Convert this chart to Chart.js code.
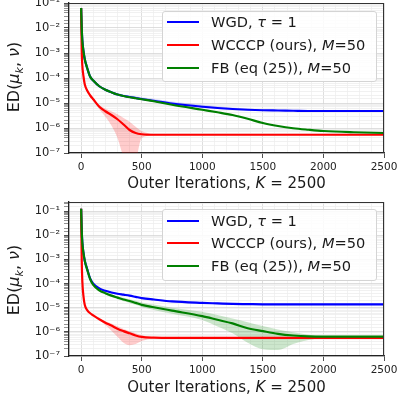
<!DOCTYPE html>
<html>
<head>
<meta charset="utf-8">
<script src="https://cdn.jsdelivr.net/npm/chart.js@4.4.1/dist/chart.umd.min.js"></script>
<style>
    body { margin: 0; background: #fff; }
    #wrap { position: relative; width: 397px; height: 402px; font-family: "DejaVu Sans", sans-serif; color: #1a1a1a; }
    .panel { position: absolute; left: 0; }
    .legend { position: absolute; left: 162px; width: 215px; box-sizing: border-box; border: 1px solid #d4d4d4; border-radius: 3px; background: rgba(255,255,255,0.85); font-size: 14.6px; }
    .row { position: absolute; left: 0; height: 20px; line-height: 20px; white-space: nowrap; }
    .ln { position: absolute; left: 4px; top: 9px; width: 32px; height: 2px; }
    .tx { position: absolute; left: 48px; top: 0; }
    .xtitle { position: absolute; left: 69px; width: 315px; text-align: center; font-size: 15px; line-height: 20px; white-space: nowrap; }
    .ytitle { position: absolute; width: 160px; height: 20px; line-height: 20px; text-align: center; font-size: 16px; transform: rotate(-90deg); white-space: nowrap; }
</style>
</head>
<body>
<div id="wrap">
    <div class="panel" style="top:0"><canvas id="topChart" width="397" height="200"></canvas></div>
    <div class="panel" style="top:200px"><canvas id="botChart" width="397" height="202"></canvas></div>

    <div class="ytitle" style="left:-66px; top:67px">ED(<i>μ<sub style="font-size:11px">k</sub></i>, <i>ν</i>)</div>
    <div class="ytitle" style="left:-66px; top:270px">ED(<i>μ<sub style="font-size:11px">k</sub></i>, <i>ν</i>)</div>
    <div class="xtitle" style="top:173px">Outer Iterations, <i>K</i> = 2500</div>
    <div class="xtitle" style="top:377px">Outer Iterations, <i>K</i> = 2500</div>

    <div class="legend" style="top:11px; height:71px">
        <div class="row" style="top:0px"><span class="ln" style="background:#0000ff"></span><span class="tx">WGD, <i>τ</i> = 1</span></div>
        <div class="row" style="top:23px"><span class="ln" style="background:#ff0000"></span><span class="tx">WCCCP (ours), <i>M</i>=50</span></div>
        <div class="row" style="top:46px"><span class="ln" style="background:#008000"></span><span class="tx">FB (eq (25)), <i>M</i>=50</span></div>
    </div>
    <div class="legend" style="top:209px; height:72px">
        <div class="row" style="top:1px"><span class="ln" style="background:#0000ff"></span><span class="tx">WGD, <i>τ</i> = 1</span></div>
        <div class="row" style="top:23px"><span class="ln" style="background:#ff0000"></span><span class="tx">WCCCP (ours), <i>M</i>=50</span></div>
        <div class="row" style="top:46px"><span class="ln" style="background:#008000"></span><span class="tx">FB (eq (25)), <i>M</i>=50</span></div>
    </div>
</div>

<script>
const iters = [0, 5, 10, 20, 30, 50, 75, 100, 150, 200, 250, 300, 350, 400, 450, 500, 600, 750, 1000, 1125, 1250, 1375, 1500, 1625, 1750, 1875, 2000, 2250, 2500];

// --- top panel, log10 of ED ---
const wgdTop   = [-1.2, -2.0, -2.5, -2.95, -3.25, -3.6, -3.95, -4.1, -4.33, -4.47, -4.57, -4.66, -4.72, -4.76, -4.8, -4.84, -4.91, -5.02, -5.15, -5.2, -5.24, -5.27, -5.29, -5.3, -5.31, -5.32, -5.32, -5.32, -5.32];
const wgdTopHi = [-1.2, -2.0, -2.5, -2.93, -3.22, -3.57, -3.92, -4.07, -4.29, -4.43, -4.52, -4.6, -4.66, -4.7, -4.73, -4.77, -4.83, -4.94, -5.07, -5.13, -5.18, -5.22, -5.25, -5.27, -5.29, -5.3, -5.31, -5.31, -5.31];
const wgdTopLo = [-1.2, -2.0, -2.5, -2.97, -3.28, -3.63, -3.98, -4.13, -4.36, -4.5, -4.6, -4.69, -4.75, -4.8, -4.84, -4.88, -4.95, -5.06, -5.19, -5.24, -5.28, -5.3, -5.32, -5.33, -5.33, -5.34, -5.34, -5.34, -5.34];
const ccpTop   = [-1.2, -2.9, -3.5, -3.95, -4.25, -4.5, -4.7, -4.85, -5.15, -5.33, -5.48, -5.65, -5.86, -6.08, -6.2, -6.25, -6.27, -6.27, -6.27, -6.27, -6.27, -6.27, -6.27, -6.27, -6.27, -6.27, -6.27, -6.27, -6.27];
const ccpTopHi = [-1.2, -2.9, -3.5, -3.95, -4.25, -4.5, -4.7, -4.85, -5.08, -5.22, -5.33, -5.45, -5.6, -5.75, -5.95, -6.12, -6.24, -6.26, -6.26, -6.26, -6.26, -6.26, -6.26, -6.26, -6.26, -6.26, -6.26, -6.26, -6.26];
const ccpTopLo = [-1.2, -2.9, -3.5, -3.95, -4.25, -4.5, -4.7, -4.85, -5.25, -5.55, -5.9, -6.4, -7.2, -8.0, -7.4, -6.4, -6.3, -6.28, -6.28, -6.28, -6.28, -6.28, -6.28, -6.28, -6.28, -6.28, -6.28, -6.28, -6.28];
const fbTop    = [-1.2, -2.0, -2.5, -2.95, -3.25, -3.6, -3.95, -4.1, -4.33, -4.47, -4.57, -4.66, -4.72, -4.77, -4.81, -4.85, -4.93, -5.07, -5.27, -5.37, -5.48, -5.63, -5.8, -5.92, -6.01, -6.07, -6.12, -6.17, -6.2];

// --- bottom panel, log10 of ED ---
const wgdBot   = [-0.9, -1.8, -2.3, -2.75, -3.05, -3.4, -3.8, -4.0, -4.2, -4.3, -4.37, -4.42, -4.46, -4.5, -4.55, -4.6, -4.66, -4.74, -4.8, -4.82, -4.84, -4.85, -4.86, -4.86, -4.86, -4.86, -4.86, -4.86, -4.86];
const wgdBotHi = [-0.9, -1.8, -2.3, -2.74, -3.03, -3.37, -3.76, -3.96, -4.16, -4.26, -4.33, -4.38, -4.42, -4.46, -4.51, -4.56, -4.62, -4.7, -4.76, -4.78, -4.8, -4.81, -4.82, -4.82, -4.82, -4.82, -4.82, -4.82, -4.82];
const wgdBotLo = [-0.9, -1.8, -2.3, -2.76, -3.07, -3.43, -3.84, -4.04, -4.24, -4.34, -4.41, -4.46, -4.5, -4.54, -4.59, -4.64, -4.7, -4.78, -4.84, -4.86, -4.88, -4.89, -4.9, -4.9, -4.9, -4.9, -4.9, -4.9, -4.9];
const ccpBot   = [-0.9, -3.0, -3.9, -4.55, -4.88, -5.1, -5.23, -5.32, -5.48, -5.62, -5.74, -5.87, -5.97, -6.06, -6.15, -6.21, -6.24, -6.25, -6.25, -6.25, -6.25, -6.25, -6.25, -6.25, -6.25, -6.25, -6.25, -6.25, -6.25];
const ccpBotHi = [-0.9, -3.0, -3.9, -4.55, -4.88, -5.1, -5.23, -5.32, -5.46, -5.55, -5.65, -5.77, -5.88, -5.97, -6.06, -6.14, -6.22, -6.24, -6.24, -6.24, -6.24, -6.24, -6.24, -6.24, -6.24, -6.24, -6.24, -6.24, -6.24];
const ccpBotLo = [-0.9, -3.0, -3.9, -4.55, -4.88, -5.1, -5.23, -5.32, -5.52, -5.72, -5.95, -6.2, -6.45, -6.55, -6.5, -6.38, -6.27, -6.26, -6.26, -6.26, -6.26, -6.26, -6.26, -6.26, -6.26, -6.26, -6.26, -6.26, -6.26];
const fbBot    = [-0.9, -1.8, -2.3, -2.75, -3.05, -3.42, -3.82, -4.05, -4.28, -4.4, -4.5, -4.58, -4.66, -4.72, -4.8, -4.88, -4.98, -5.12, -5.35, -5.5, -5.65, -5.85, -5.97, -6.08, -6.15, -6.19, -6.2, -6.2, -6.2];
const fbBotHi  = [-0.9, -1.8, -2.3, -2.75, -3.05, -3.4, -3.79, -4.02, -4.24, -4.35, -4.44, -4.52, -4.59, -4.65, -4.71, -4.78, -4.87, -5.0, -5.17, -5.3, -5.45, -5.6, -5.76, -5.9, -6.02, -6.12, -6.17, -6.19, -6.19];
const fbBotLo  = [-0.9, -1.8, -2.3, -2.75, -3.05, -3.44, -3.85, -4.08, -4.32, -4.45, -4.56, -4.64, -4.73, -4.8, -4.88, -4.97, -5.09, -5.25, -5.51, -5.78, -6.06, -6.45, -6.72, -6.75, -6.5, -6.34, -6.24, -6.21, -6.21];

const xTickLabels = [0, 500, 1000, 1500, 2000, 2500];
const FONT = "'DejaVu Sans', sans-serif";
const SUP = { "-": "⁻", "0": "⁰", "1": "¹", "2": "²", "3": "³", "4": "⁴", "5": "⁵", "6": "⁶", "7": "⁷", "8": "⁸", "9": "⁹" };

function isDecade(v) {
    const e = Math.log10(v);
    return Math.abs(e - Math.round(e)) < 1e-6;
}

function pts(logs) {
    return iters.map((x, i) => ({ x: x, y: Math.pow(10, logs[i]) }));
}

function line(logs, color) {
    return {
        data: pts(logs), borderColor: color, borderWidth: 2.2,
        pointRadius: 0, fill: false, cubicInterpolationMode: "monotone"
    };
}

function band(logs, color, fill) {
    return {
        data: pts(logs), borderWidth: 0, borderColor: "rgba(0,0,0,0)", backgroundColor: color,
        pointRadius: 0, fill: fill, cubicInterpolationMode: "monotone"
    };
}

// frame on top and right, like matplotlib spines
const frame = {
    id: "frame",
    afterDraw(chart) {
        const { ctx, chartArea: a } = chart;
        ctx.save();
        ctx.strokeStyle = "#333";
        ctx.lineWidth = 1;
        ctx.beginPath();
        ctx.moveTo(a.left, a.top + 0.5);
        ctx.lineTo(a.right, a.top + 0.5);
        ctx.moveTo(a.right - 0.5, a.top);
        ctx.lineTo(a.right - 0.5, a.bottom);
        ctx.stroke();
        ctx.restore();
    }
};

function makePanel(id, s, yMax, padTop, xHeight) {
    const datasets = [
        line(s.fb, "#008000"),
        line(s.ccp, "#ff0000"),
        line(s.wgd, "#0000ff"),
        band(s.wgdHi, "rgba(0,0,255,0.15)", "+1"),
        band(s.wgdLo, "rgba(0,0,255,0.15)", false),
        band(s.ccpHi, "rgba(255,0,0,0.2)", "+1"),
        band(s.ccpLo, "rgba(255,0,0,0.2)", false)
    ];
    if (s.fbHi) {
        datasets.push(band(s.fbHi, "rgba(0,128,0,0.2)", "+1"));
        datasets.push(band(s.fbLo, "rgba(0,128,0,0.2)", false));
    }

    new Chart(document.getElementById(id), {
        type: "line",
        data: { datasets: datasets },
        plugins: [frame],
        options: {
            responsive: false,
            animation: false,
            layout: { padding: { left: 0, right: 13, top: padTop, bottom: 0 } },
            plugins: { legend: { display: false }, tooltip: { enabled: false } },
            scales: {
                x: {
                    type: "linear", min: -100, max: 2500,
                    border: { display: true, color: "#222", width: 1.3 },
                    grid: {
                        color: c => (c.tick && xTickLabels.includes(c.tick.value)) ? "#d6d6d6" : "#efefef",
                        tickColor: c => (c.tick && xTickLabels.includes(c.tick.value)) ? "#222" : "rgba(0,0,0,0)",
                        tickLength: 5, lineWidth: 0.8
                    },
                    ticks: {
                        stepSize: 100, autoSkip: false, maxRotation: 0, padding: 3,
                        color: "#222", font: { family: FONT, size: 10.5 },
                        callback: v => xTickLabels.includes(v) ? String(v) : ""
                    },
                    afterFit: sc => { sc.height = xHeight; sc.paddingLeft = 0; sc.paddingRight = 0; }
                },
                y: {
                    type: "logarithmic", min: 1e-7, max: yMax,
                    border: { display: true, color: "#222", width: 1.3 },
                    grid: {
                        color: c => (c.tick && isDecade(c.tick.value)) ? "#d6d6d6" : "#ededed",
                        tickColor: c => (c.tick && isDecade(c.tick.value)) ? "#222" : "#777",
                        tickLength: 5, lineWidth: 0.8
                    },
                    ticks: {
                        autoSkip: false, padding: 4, color: "#222", font: { family: FONT, size: 11.5 },
                        callback: v => {
                            if (!isDecade(v)) return "";
                            const e = String(Math.round(Math.log10(v)));
                            return "10" + e.split("").map(ch => SUP[ch]).join("");
                        }
                    },
                    afterFit: sc => { sc.width = 69; sc.paddingTop = 0; sc.paddingBottom = 0; }
                }
            }
        }
    });
}

makePanel("topChart", {
    wgd: wgdTop, wgdHi: wgdTopHi, wgdLo: wgdTopLo,
    ccp: ccpTop, ccpHi: ccpTopHi, ccpLo: ccpTopLo,
    fb: fbTop
}, 1e-1, 3, 47);

makePanel("botChart", {
    wgd: wgdBot, wgdHi: wgdBotHi, wgdLo: wgdBotLo,
    ccp: ccpBot, ccpHi: ccpBotHi, ccpLo: ccpBotLo,
    fb: fbBot, fbHi: fbBotHi, fbLo: fbBotLo
}, 0.24, 2, 46);
</script>
</body>
</html>
